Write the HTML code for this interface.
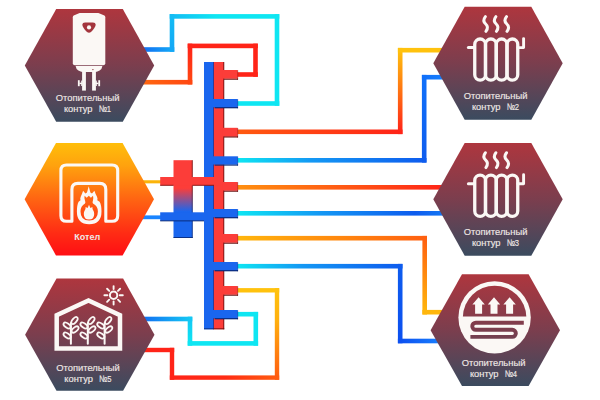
<!DOCTYPE html>
<html><head><meta charset="utf-8"><title>Схема отопления</title>
<style>
html,body{margin:0;padding:0;background:#fff;}
body{width:600px;height:400px;overflow:hidden;}
svg{display:block}
text{font-family:"Liberation Sans",Arial,sans-serif;font-size:9.2px;fill:#efe8e6;stroke:#efe8e6;stroke-width:0.15px;}
</style></head><body>
<svg width="600" height="400" viewBox="0 0 600 400">
<defs>
<linearGradient id="g1" gradientUnits="userSpaceOnUse" x1="140" y1="49.5" x2="172" y2="49.5"><stop offset="0" stop-color="#1268f2"/><stop offset="1" stop-color="#14a8f6"/></linearGradient>
<linearGradient id="g2" gradientUnits="userSpaceOnUse" x1="172" y1="49.5" x2="172" y2="16.4"><stop offset="0" stop-color="#14a8f6"/><stop offset="1" stop-color="#14bcf4"/></linearGradient>
<linearGradient id="g3" gradientUnits="userSpaceOnUse" x1="172" y1="16.4" x2="216" y2="16.4"><stop offset="0" stop-color="#14bcf4"/><stop offset="1" stop-color="#0ee6f2"/></linearGradient>
<linearGradient id="g4" gradientUnits="userSpaceOnUse" x1="216" y1="16.4" x2="277" y2="16.4"><stop offset="0" stop-color="#0ee6f2"/><stop offset="1" stop-color="#0ee6f2"/></linearGradient>
<linearGradient id="g5" gradientUnits="userSpaceOnUse" x1="277" y1="16.4" x2="277" y2="103.5"><stop offset="0" stop-color="#0ee6f2"/><stop offset="1" stop-color="#0ee6f2"/></linearGradient>
<linearGradient id="g6" gradientUnits="userSpaceOnUse" x1="277" y1="103.5" x2="237" y2="103.5"><stop offset="0" stop-color="#0ee6f2"/><stop offset="1" stop-color="#0ee6f2"/></linearGradient>
<linearGradient id="g7" gradientUnits="userSpaceOnUse" x1="138" y1="82.2" x2="190" y2="82.2"><stop offset="0" stop-color="#ff6a10"/><stop offset="1" stop-color="#ff4812"/></linearGradient>
<linearGradient id="g8" gradientUnits="userSpaceOnUse" x1="190" y1="82.2" x2="190" y2="45.9"><stop offset="0" stop-color="#ff4812"/><stop offset="1" stop-color="#ff2418"/></linearGradient>
<linearGradient id="g9" gradientUnits="userSpaceOnUse" x1="190" y1="45.9" x2="255.5" y2="45.9"><stop offset="0" stop-color="#ff2418"/><stop offset="1" stop-color="#ff2418"/></linearGradient>
<linearGradient id="g10" gradientUnits="userSpaceOnUse" x1="255.5" y1="45.9" x2="255.5" y2="74.5"><stop offset="0" stop-color="#ff2418"/><stop offset="1" stop-color="#ff2418"/></linearGradient>
<linearGradient id="g11" gradientUnits="userSpaceOnUse" x1="255.5" y1="74.5" x2="237" y2="74.5"><stop offset="0" stop-color="#ff2418"/><stop offset="1" stop-color="#ff2418"/></linearGradient>
<linearGradient id="g12" gradientUnits="userSpaceOnUse" x1="237" y1="131.8" x2="400.2" y2="131.8"><stop offset="0" stop-color="#ff5a10"/><stop offset="1" stop-color="#ff2418"/></linearGradient>
<linearGradient id="g13" gradientUnits="userSpaceOnUse" x1="400.2" y1="131.8" x2="400.2" y2="50.2"><stop offset="0" stop-color="#ff2418"/><stop offset="1" stop-color="#ffc20e"/></linearGradient>
<linearGradient id="g14" gradientUnits="userSpaceOnUse" x1="400.2" y1="50.2" x2="445" y2="50.2"><stop offset="0" stop-color="#ffc20e"/><stop offset="1" stop-color="#ffc20e"/></linearGradient>
<linearGradient id="g15" gradientUnits="userSpaceOnUse" x1="237" y1="160.3" x2="312" y2="160.3"><stop offset="0" stop-color="#0ee6f2"/><stop offset="1" stop-color="#1498f4"/></linearGradient>
<linearGradient id="g16" gradientUnits="userSpaceOnUse" x1="312" y1="160.3" x2="424.2" y2="160.3"><stop offset="0" stop-color="#1498f4"/><stop offset="1" stop-color="#0e5cee"/></linearGradient>
<linearGradient id="g17" gradientUnits="userSpaceOnUse" x1="424.2" y1="160.3" x2="424.2" y2="77.2"><stop offset="0" stop-color="#0e5cee"/><stop offset="1" stop-color="#1070fa"/></linearGradient>
<linearGradient id="g18" gradientUnits="userSpaceOnUse" x1="424.2" y1="77.2" x2="450" y2="77.2"><stop offset="0" stop-color="#1070fa"/><stop offset="1" stop-color="#1a84ff"/></linearGradient>
<linearGradient id="g19" gradientUnits="userSpaceOnUse" x1="237" y1="187.3" x2="445" y2="187.3"><stop offset="0" stop-color="#ff9010"/><stop offset="1" stop-color="#ff2418"/></linearGradient>
<linearGradient id="g20" gradientUnits="userSpaceOnUse" x1="237" y1="213.3" x2="320" y2="213.3"><stop offset="0" stop-color="#0ee6f2"/><stop offset="1" stop-color="#1498f4"/></linearGradient>
<linearGradient id="g21" gradientUnits="userSpaceOnUse" x1="320" y1="213.3" x2="415" y2="213.3"><stop offset="0" stop-color="#1498f4"/><stop offset="1" stop-color="#0e5cee"/></linearGradient>
<linearGradient id="g22" gradientUnits="userSpaceOnUse" x1="415" y1="213.3" x2="445" y2="213.3"><stop offset="0" stop-color="#0e5cee"/><stop offset="1" stop-color="#1478f4"/></linearGradient>
<linearGradient id="g23" gradientUnits="userSpaceOnUse" x1="237" y1="238.2" x2="424.7" y2="238.2"><stop offset="0" stop-color="#ffb60c"/><stop offset="1" stop-color="#ff6010"/></linearGradient>
<linearGradient id="g24" gradientUnits="userSpaceOnUse" x1="424.7" y1="238.2" x2="424.7" y2="312.2"><stop offset="0" stop-color="#ff6010"/><stop offset="1" stop-color="#ffb60c"/></linearGradient>
<linearGradient id="g25" gradientUnits="userSpaceOnUse" x1="424.7" y1="312.2" x2="445" y2="312.2"><stop offset="0" stop-color="#ffb60c"/><stop offset="1" stop-color="#ffb60c"/></linearGradient>
<linearGradient id="g26" gradientUnits="userSpaceOnUse" x1="237" y1="266.2" x2="302" y2="266.2"><stop offset="0" stop-color="#0ee6f2"/><stop offset="1" stop-color="#1498f4"/></linearGradient>
<linearGradient id="g27" gradientUnits="userSpaceOnUse" x1="302" y1="266.2" x2="400.2" y2="266.2"><stop offset="0" stop-color="#1498f4"/><stop offset="1" stop-color="#0e5cee"/></linearGradient>
<linearGradient id="g28" gradientUnits="userSpaceOnUse" x1="400.2" y1="266.2" x2="400.2" y2="341"><stop offset="0" stop-color="#0e5cee"/><stop offset="1" stop-color="#0c50f0"/></linearGradient>
<linearGradient id="g29" gradientUnits="userSpaceOnUse" x1="400.2" y1="341" x2="445" y2="341"><stop offset="0" stop-color="#0c50f0"/><stop offset="1" stop-color="#1a84ff"/></linearGradient>
<linearGradient id="g30" gradientUnits="userSpaceOnUse" x1="237" y1="314.2" x2="255.8" y2="314.2"><stop offset="0" stop-color="#0ee6f2"/><stop offset="1" stop-color="#0ee6f2"/></linearGradient>
<linearGradient id="g31" gradientUnits="userSpaceOnUse" x1="255.8" y1="314.2" x2="255.8" y2="343.4"><stop offset="0" stop-color="#0ee6f2"/><stop offset="1" stop-color="#0ee6f2"/></linearGradient>
<linearGradient id="g32" gradientUnits="userSpaceOnUse" x1="255.8" y1="343.4" x2="190" y2="343.4"><stop offset="0" stop-color="#0ee6f2"/><stop offset="1" stop-color="#0ee6f2"/></linearGradient>
<linearGradient id="g33" gradientUnits="userSpaceOnUse" x1="190" y1="343.4" x2="190" y2="319"><stop offset="0" stop-color="#0ee6f2"/><stop offset="1" stop-color="#14c8f4"/></linearGradient>
<linearGradient id="g34" gradientUnits="userSpaceOnUse" x1="190" y1="319" x2="140" y2="319"><stop offset="0" stop-color="#14c8f4"/><stop offset="1" stop-color="#1268f2"/></linearGradient>
<linearGradient id="g35" gradientUnits="userSpaceOnUse" x1="237" y1="290.3" x2="277" y2="290.3"><stop offset="0" stop-color="#ffc20e"/><stop offset="1" stop-color="#ffc20e"/></linearGradient>
<linearGradient id="g36" gradientUnits="userSpaceOnUse" x1="277" y1="290.3" x2="277" y2="320"><stop offset="0" stop-color="#ffc20e"/><stop offset="1" stop-color="#ffb00e"/></linearGradient>
<linearGradient id="g37" gradientUnits="userSpaceOnUse" x1="277" y1="320" x2="277" y2="377.6"><stop offset="0" stop-color="#ffb00e"/><stop offset="1" stop-color="#ff5c10"/></linearGradient>
<linearGradient id="g38" gradientUnits="userSpaceOnUse" x1="277" y1="377.6" x2="225" y2="377.6"><stop offset="0" stop-color="#ff5c10"/><stop offset="1" stop-color="#ff2c14"/></linearGradient>
<linearGradient id="g39" gradientUnits="userSpaceOnUse" x1="225" y1="377.6" x2="172" y2="377.6"><stop offset="0" stop-color="#ff2c14"/><stop offset="1" stop-color="#ff2418"/></linearGradient>
<linearGradient id="g40" gradientUnits="userSpaceOnUse" x1="172" y1="377.6" x2="172" y2="350"><stop offset="0" stop-color="#ff2418"/><stop offset="1" stop-color="#ff2418"/></linearGradient>
<linearGradient id="g41" gradientUnits="userSpaceOnUse" x1="172" y1="350" x2="140" y2="350"><stop offset="0" stop-color="#ff2418"/><stop offset="1" stop-color="#ff2418"/></linearGradient>
<linearGradient id="g42" gradientUnits="userSpaceOnUse" x1="140" y1="181.8" x2="162" y2="181.8"><stop offset="0" stop-color="#fbb40a"/><stop offset="1" stop-color="#fbb40a"/></linearGradient>
<linearGradient id="g43" gradientUnits="userSpaceOnUse" x1="140" y1="217.3" x2="162" y2="217.3"><stop offset="0" stop-color="#1a84ff"/><stop offset="1" stop-color="#1a84ff"/></linearGradient>
<linearGradient id="sepg" x1="0" y1="0" x2="0" y2="1"><stop offset="0" stop-color="#fc3d39"/><stop offset="0.36" stop-color="#fc3d39"/><stop offset="0.66" stop-color="#1a66ee"/><stop offset="1" stop-color="#1a66ee"/></linearGradient>
<linearGradient id="sepd" x1="0" y1="0" x2="0" y2="1"><stop offset="0" stop-color="#5e0808"/><stop offset="0.36" stop-color="#5e0808"/><stop offset="0.66" stop-color="#08246e"/><stop offset="1" stop-color="#08246e"/></linearGradient>
<linearGradient id="Gh1" gradientUnits="userSpaceOnUse" x1="0" y1="9.000000000000007" x2="0" y2="121.80000000000001"><stop offset="0" stop-color="#ae363e"/><stop offset="0.5" stop-color="#7b3e4e"/><stop offset="1" stop-color="#3b4b5f"/></linearGradient>
<linearGradient id="Gh2" gradientUnits="userSpaceOnUse" x1="0" y1="6.700000000000003" x2="0" y2="119.7"><stop offset="0" stop-color="#ae363e"/><stop offset="0.5" stop-color="#7b3e4e"/><stop offset="1" stop-color="#3b4b5f"/></linearGradient>
<linearGradient id="Gh3" gradientUnits="userSpaceOnUse" x1="0" y1="142.9" x2="0" y2="255.70000000000002"><stop offset="0" stop-color="#ae363e"/><stop offset="0.5" stop-color="#7b3e4e"/><stop offset="1" stop-color="#3b4b5f"/></linearGradient>
<linearGradient id="Gh4" gradientUnits="userSpaceOnUse" x1="0" y1="274.3" x2="0" y2="386.09999999999997"><stop offset="0" stop-color="#ae363e"/><stop offset="0.5" stop-color="#7b3e4e"/><stop offset="1" stop-color="#3b4b5f"/></linearGradient>
<linearGradient id="Gh5" gradientUnits="userSpaceOnUse" x1="0" y1="278.59999999999997" x2="0" y2="390.8"><stop offset="0" stop-color="#ae363e"/><stop offset="0.5" stop-color="#7b3e4e"/><stop offset="1" stop-color="#3b4b5f"/></linearGradient>
<linearGradient id="Ghb" gradientUnits="userSpaceOnUse" x1="0" y1="143.0" x2="0" y2="255.60000000000002"><stop offset="0" stop-color="#ffbe0a"/><stop offset="0.2" stop-color="#ffa20e"/><stop offset="0.5" stop-color="#ff6412"/><stop offset="0.8" stop-color="#ff2c14"/><stop offset="1" stop-color="#ff0e14"/></linearGradient>
</defs>
<rect width="600" height="400" fill="#fff"/>
<g id="pipes">
<rect x="140.00" y="47.20" width="34.30" height="4.6" fill="url(#g1)"/>
<rect x="169.70" y="14.10" width="4.6" height="37.70" fill="url(#g2)"/>
<rect x="169.70" y="14.10" width="46.30" height="4.6" fill="url(#g3)"/>
<rect x="216.00" y="14.10" width="63.30" height="4.6" fill="url(#g4)"/>
<rect x="274.70" y="14.10" width="4.6" height="91.70" fill="url(#g5)"/>
<rect x="237.00" y="101.20" width="42.30" height="4.6" fill="url(#g6)"/>
<rect x="138.00" y="79.90" width="54.30" height="4.6" fill="url(#g7)"/>
<rect x="187.70" y="43.60" width="4.6" height="40.90" fill="url(#g8)"/>
<rect x="187.70" y="43.60" width="70.10" height="4.6" fill="url(#g9)"/>
<rect x="253.20" y="43.60" width="4.6" height="33.20" fill="url(#g10)"/>
<rect x="237.00" y="72.20" width="20.80" height="4.6" fill="url(#g11)"/>
<rect x="237.00" y="129.50" width="165.50" height="4.6" fill="url(#g12)"/>
<rect x="397.90" y="47.90" width="4.6" height="86.20" fill="url(#g13)"/>
<rect x="397.90" y="47.90" width="47.10" height="4.6" fill="url(#g14)"/>
<rect x="237.00" y="158.00" width="75.00" height="4.6" fill="url(#g15)"/>
<rect x="312.00" y="158.00" width="114.50" height="4.6" fill="url(#g16)"/>
<rect x="421.90" y="74.90" width="4.6" height="87.70" fill="url(#g17)"/>
<rect x="421.90" y="74.90" width="28.10" height="4.6" fill="url(#g18)"/>
<rect x="237.00" y="185.00" width="208.00" height="4.6" fill="url(#g19)"/>
<rect x="237.00" y="211.00" width="83.00" height="4.6" fill="url(#g20)"/>
<rect x="320.00" y="211.00" width="95.00" height="4.6" fill="url(#g21)"/>
<rect x="415.00" y="211.00" width="30.00" height="4.6" fill="url(#g22)"/>
<rect x="237.00" y="235.90" width="190.00" height="4.6" fill="url(#g23)"/>
<rect x="422.40" y="235.90" width="4.6" height="78.60" fill="url(#g24)"/>
<rect x="422.40" y="309.90" width="22.60" height="4.6" fill="url(#g25)"/>
<rect x="237.00" y="263.90" width="65.00" height="4.6" fill="url(#g26)"/>
<rect x="302.00" y="263.90" width="100.50" height="4.6" fill="url(#g27)"/>
<rect x="397.90" y="263.90" width="4.6" height="79.40" fill="url(#g28)"/>
<rect x="397.90" y="338.70" width="47.10" height="4.6" fill="url(#g29)"/>
<rect x="237.00" y="311.90" width="21.10" height="4.6" fill="url(#g30)"/>
<rect x="253.50" y="311.90" width="4.6" height="33.80" fill="url(#g31)"/>
<rect x="187.70" y="341.10" width="70.40" height="4.6" fill="url(#g32)"/>
<rect x="187.70" y="316.70" width="4.6" height="29.00" fill="url(#g33)"/>
<rect x="140.00" y="316.70" width="52.30" height="4.6" fill="url(#g34)"/>
<rect x="237.00" y="288.10" width="42.20" height="4.4" fill="url(#g35)"/>
<rect x="274.80" y="288.10" width="4.4" height="31.90" fill="url(#g36)"/>
<rect x="274.80" y="320.00" width="4.4" height="59.80" fill="url(#g37)"/>
<rect x="225.00" y="375.40" width="54.20" height="4.4" fill="url(#g38)"/>
<rect x="169.80" y="375.40" width="55.20" height="4.4" fill="url(#g39)"/>
<rect x="169.80" y="347.80" width="4.4" height="32.00" fill="url(#g40)"/>
<rect x="140.00" y="347.80" width="34.20" height="4.4" fill="url(#g41)"/>
<rect x="140.00" y="180.25" width="22.00" height="3.1" fill="url(#g42)"/>
<rect x="140.00" y="215.40" width="22.00" height="3.8" fill="url(#g43)"/>
</g>
<g id="manifold">
<rect x="173.5" y="160.2" width="19" height="77.8" fill="url(#sepg)"/>
<rect x="191.8" y="160.2" width="0.9" height="77.8" fill="url(#sepd)" opacity="0.8"/>
<rect x="173.5" y="237" width="19.2" height="1" fill="#08246e" opacity="0.8"/>
<rect x="160.2" y="212.3" width="50" height="8.6" fill="#1a66ee"/>
<rect x="160.2" y="220.3" width="44" height="1.1" fill="#08246e" opacity="0.8"/>
<rect x="204" y="62" width="10" height="267.3" fill="#1a66ee"/>
<rect x="213.6" y="62" width="10.4" height="267.3" fill="#fc3d39"/>
<rect x="223.3" y="62" width="1" height="267.3" fill="#5e0808" opacity="0.8"/>
<rect x="213.1" y="62" width="0.9" height="267.3" fill="#0b2c8e" opacity="0.7"/>
<rect x="204" y="328.3" width="9.6" height="1" fill="#08246e" opacity="0.8"/>
<rect x="213.6" y="328.3" width="10.7" height="1" fill="#5e0808" opacity="0.8"/>
<rect x="224.0" y="78.39999999999999" width="13.99999999999999" height="1.3" fill="#5e0808"/><rect x="237.2" y="70.3" width="0.9" height="9.299999999999999" fill="#5e0808" opacity="0.85"/><rect x="222.4" y="70" width="15.199999999999989" height="8.6" fill="#fc3d39"/>
<rect x="224.0" y="136.20000000000002" width="13.99999999999999" height="1.3" fill="#5e0808"/><rect x="237.2" y="128.1" width="0.9" height="9.299999999999999" fill="#5e0808" opacity="0.85"/><rect x="222.4" y="127.8" width="15.199999999999989" height="8.6" fill="#fc3d39"/>
<rect x="224.0" y="242.4" width="13.99999999999999" height="1.3" fill="#5e0808"/><rect x="237.2" y="234.3" width="0.9" height="9.299999999999999" fill="#5e0808" opacity="0.85"/><rect x="222.4" y="234" width="15.199999999999989" height="8.6" fill="#fc3d39"/>
<rect x="224.0" y="294.40000000000003" width="13.99999999999999" height="1.3" fill="#5e0808"/><rect x="237.2" y="286.3" width="0.9" height="9.299999999999999" fill="#5e0808" opacity="0.85"/><rect x="222.4" y="286" width="15.199999999999989" height="8.6" fill="#fc3d39"/>
<rect x="214.6" y="107.0" width="23.399999999999995" height="1.3" fill="#08246e"/><rect x="237.2" y="99.3" width="0.9" height="8.899999999999999" fill="#08246e" opacity="0.85"/><rect x="213" y="99" width="24.599999999999994" height="8.2" fill="#1a66ee"/>
<rect x="214.6" y="164.3" width="23.399999999999995" height="1.3" fill="#08246e"/><rect x="237.2" y="156.60000000000002" width="0.9" height="8.899999999999999" fill="#08246e" opacity="0.85"/><rect x="213" y="156.3" width="24.599999999999994" height="8.2" fill="#1a66ee"/>
<rect x="214.6" y="217.0" width="23.399999999999995" height="1.3" fill="#08246e"/><rect x="237.2" y="209.3" width="0.9" height="8.899999999999999" fill="#08246e" opacity="0.85"/><rect x="213" y="209" width="24.599999999999994" height="8.2" fill="#1a66ee"/>
<rect x="214.6" y="270.0" width="23.399999999999995" height="1.3" fill="#08246e"/><rect x="237.2" y="262.3" width="0.9" height="8.899999999999999" fill="#08246e" opacity="0.85"/><rect x="213" y="262" width="24.599999999999994" height="8.2" fill="#1a66ee"/>
<rect x="214.6" y="318.0" width="23.399999999999995" height="1.3" fill="#08246e"/><rect x="237.2" y="310.3" width="0.9" height="8.899999999999999" fill="#08246e" opacity="0.85"/><rect x="213" y="310" width="24.599999999999994" height="8.2" fill="#1a66ee"/>
<rect x="160.2" y="177" width="60" height="8.6" fill="#fc3d39"/><rect x="160.2" y="184.8" width="13.3" height="1" fill="#5e0808" opacity="0.7"/><rect x="192.5" y="184.8" width="21.5" height="1" fill="#5e0808" opacity="0.7"/><rect x="224.0" y="190.4" width="13.99999999999999" height="1.3" fill="#5e0808"/><rect x="237.2" y="182.3" width="0.9" height="9.299999999999999" fill="#5e0808" opacity="0.85"/><rect x="222.4" y="182" width="15.199999999999989" height="8.6" fill="#fc3d39"/>
</g>
<g id="hexes">
<polygon points="24.8,65.4 56.2,9.0 122.8,9.0 154.2,65.4 122.8,121.8 56.2,121.8" fill="url(#Gh1)"/>
<polygon points="433.3,63.2 464.7,6.7 531.3,6.7 562.7,63.2 531.3,119.7 464.7,119.7" fill="url(#Gh2)"/>
<polygon points="433.3,199.3 464.7,142.9 531.3,142.9 562.7,199.3 531.3,255.7 464.7,255.7" fill="url(#Gh3)"/>
<polygon points="430.6,330.2 462.0,274.3 528.6,274.3 560.0,330.2 528.6,386.1 462.0,386.1" fill="url(#Gh4)"/>
<polygon points="25.1,334.7 56.5,278.6 123.1,278.6 154.5,334.7 123.1,390.8 56.5,390.8" fill="url(#Gh5)"/>
<polygon points="24.6,199.3 56.0,143.0 122.6,143.0 154.0,199.3 122.6,255.6 56.0,255.6" fill="url(#Ghb)"/>
</g>
<g id="icons">
<g id="heater" fill="#fbf8f5">
<path d="M79.6 13.1 H98.4 L104.4 15.6 Q105.3 16.1 105.3 17.2 V63.2 Q105.3 65.3 103.2 65.3 H74.9 Q72.8 65.3 72.8 63.2 V17.2 Q72.8 16.1 73.7 15.6 Z"/>
<path d="M75.6 66 H102.4 Q101.6 72 93 72 H85 Q76.4 72 75.6 66 Z"/>
<rect x="82.1" y="71" width="3.8" height="19.6"/>
<rect x="92.1" y="71" width="3.8" height="19.6"/>
<rect x="77.9" y="80.2" width="1.8" height="6"/><rect x="79.5" y="82.7" width="2.8" height="1.4"/><rect x="81.2" y="80.6" width="1.2" height="5.4"/>
<rect x="98.3" y="80.2" width="1.8" height="6"/><rect x="95.7" y="82.7" width="2.8" height="1.4"/><rect x="95.6" y="80.6" width="1.2" height="5.4"/>
</g>
<path d="M82.3 24.8 Q82.4 22.6 85 22.6 H93 Q95.6 22.6 95.7 24.8 Q95.4 27.8 91 32 Q89 33.6 87 32 Q82.6 27.8 82.3 24.8 Z" fill="#a4353d"/>
<circle cx="89" cy="27.4" r="2.1" fill="#fbf8f5"/>
<circle cx="92.9" cy="69.6" r="0.7" fill="#8a3a45"/>
<g id="rad2" transform="translate(0,0)" fill="none" stroke="#fbf8f5" stroke-linecap="round" stroke-linejoin="round"><path d="M485.4 16.6 C483.09999999999997 19.5 483.5 22 485.7 24 C487.9 26 488.09999999999997 28.5 485.9 31.4" stroke-width="3"/><path d="M495.9 16.6 C493.59999999999997 19.5 494.0 22 496.2 24 C498.4 26 498.59999999999997 28.5 496.4 31.4" stroke-width="3"/><path d="M506.5 16.6 C504.2 19.5 504.6 22 506.8 24 C509.0 26 509.2 28.5 507.0 31.4" stroke-width="3"/><rect x="474.75" y="39" width="10.75" height="41.2" rx="5.375" stroke-width="3.3"/><rect x="485.50" y="39" width="10.75" height="41.2" rx="5.375" stroke-width="3.3"/><rect x="496.25" y="39" width="10.75" height="41.2" rx="5.375" stroke-width="3.3"/><rect x="507.00" y="39" width="10.75" height="41.2" rx="5.375" stroke-width="3.3"/><path d="M468.4 47.6 H474" stroke-width="3"/><path d="M518 47.6 H523.6 V38.6" stroke-width="2.9"/></g>
<g id="rad3" transform="translate(0,136.2)" fill="none" stroke="#fbf8f5" stroke-linecap="round" stroke-linejoin="round"><path d="M485.4 16.6 C483.09999999999997 19.5 483.5 22 485.7 24 C487.9 26 488.09999999999997 28.5 485.9 31.4" stroke-width="3"/><path d="M495.9 16.6 C493.59999999999997 19.5 494.0 22 496.2 24 C498.4 26 498.59999999999997 28.5 496.4 31.4" stroke-width="3"/><path d="M506.5 16.6 C504.2 19.5 504.6 22 506.8 24 C509.0 26 509.2 28.5 507.0 31.4" stroke-width="3"/><rect x="474.75" y="39" width="10.75" height="41.2" rx="5.375" stroke-width="3.3"/><rect x="485.50" y="39" width="10.75" height="41.2" rx="5.375" stroke-width="3.3"/><rect x="496.25" y="39" width="10.75" height="41.2" rx="5.375" stroke-width="3.3"/><rect x="507.00" y="39" width="10.75" height="41.2" rx="5.375" stroke-width="3.3"/><path d="M468.4 47.6 H474" stroke-width="3"/><path d="M518 47.6 H523.6 V38.6" stroke-width="2.9"/></g>
<g id="floor">
<circle cx="494.6" cy="317.4" r="36.2" fill="#fbf8f5"/>
<path d="M462.91 316.6 A31.7 31.7 0 0 1 526.2900000000001 316.6 Z" fill="url(#Gh4)"/>
<g fill="#fbf8f5"><path d="M478.6 297.3 L484.8 304.6 H482.1 V313.8 H475.1 V304.6 H472.40000000000003 Z"/><path d="M494 297.3 L500.2 304.6 H497.5 V313.8 H490.5 V304.6 H487.8 Z"/><path d="M509.6 297.3 L515.8000000000001 304.6 H513.1 V313.8 H506.1 V304.6 H503.40000000000003 Z"/></g>
<path d="M523.8 322.7 H475.8 A3.55 3.55 0 0 0 475.8 329.8 H512.3 A3.55 3.55 0 0 1 512.3 336.9 H470.4" fill="none" stroke="url(#Gh4)" stroke-width="3.9"/>
</g>
<g id="green" fill="none" stroke="#fbf8f5" stroke-linejoin="miter" stroke-linecap="round"><path d="M56.7 348.5 V315.2 L88.5 300.4 L120 315.2 V348.5 Z" stroke-width="4.5"/><path d="M70.9 343.8 V323" stroke-width="2"/><ellipse cx="74.5" cy="320.5" rx="4.1" ry="2.1" transform="rotate(-50 74.5 320.5)" stroke-width="1.8"/><ellipse cx="67.10000000000001" cy="325.5" rx="4.1" ry="2.1" transform="rotate(35 67.10000000000001 325.5)" stroke-width="1.8"/><ellipse cx="75.10000000000001" cy="329.5" rx="4.1" ry="2.1" transform="rotate(-40 75.10000000000001 329.5)" stroke-width="1.8"/><ellipse cx="67.10000000000001" cy="335.5" rx="4.1" ry="2.1" transform="rotate(35 67.10000000000001 335.5)" stroke-width="1.8"/><path d="M87.8 343.8 V323" stroke-width="2"/><ellipse cx="91.39999999999999" cy="320.5" rx="4.1" ry="2.1" transform="rotate(-50 91.39999999999999 320.5)" stroke-width="1.8"/><ellipse cx="84.0" cy="325.5" rx="4.1" ry="2.1" transform="rotate(35 84.0 325.5)" stroke-width="1.8"/><ellipse cx="92.0" cy="329.5" rx="4.1" ry="2.1" transform="rotate(-40 92.0 329.5)" stroke-width="1.8"/><ellipse cx="84.0" cy="335.5" rx="4.1" ry="2.1" transform="rotate(35 84.0 335.5)" stroke-width="1.8"/><path d="M104.6 343.8 V323" stroke-width="2"/><ellipse cx="108.19999999999999" cy="320.5" rx="4.1" ry="2.1" transform="rotate(-50 108.19999999999999 320.5)" stroke-width="1.8"/><ellipse cx="100.8" cy="325.5" rx="4.1" ry="2.1" transform="rotate(35 100.8 325.5)" stroke-width="1.8"/><ellipse cx="108.8" cy="329.5" rx="4.1" ry="2.1" transform="rotate(-40 108.8 329.5)" stroke-width="1.8"/><ellipse cx="100.8" cy="335.5" rx="4.1" ry="2.1" transform="rotate(35 100.8 335.5)" stroke-width="1.8"/><circle cx="113.6" cy="295.3" r="3.7" stroke-width="2"/><path d="M119.80 295.30 L122.80 295.30" stroke-width="1.9"/><path d="M117.98 299.68 L120.11 301.81" stroke-width="1.9"/><path d="M113.60 301.50 L113.60 304.50" stroke-width="1.9"/><path d="M109.22 299.68 L107.09 301.81" stroke-width="1.9"/><path d="M107.40 295.30 L104.40 295.30" stroke-width="1.9"/><path d="M109.22 290.92 L107.09 288.79" stroke-width="1.9"/><path d="M113.60 289.10 L113.60 286.10" stroke-width="1.9"/><path d="M117.98 290.92 L120.11 288.79" stroke-width="1.9"/></g>
<g id="kotel" fill="none" stroke="#fbf8f5" stroke-width="3.1" stroke-linejoin="round"><path d="M71.9 221.3 H66.5 Q60.9 221.3 60.9 215.7 V170.6 Q60.9 165 66.5 165 H112.1 Q117.7 165 117.7 170.6 V215.7 Q117.7 221.3 112.1 221.3 H105.8 V189.4 Q105.8 183.4 99.8 183.4 H77.9 Q71.9 183.4 71.9 189.4 Z"/></g><path d="M88.7 186.2 L90.4 192.4 L92 193.4 L94.4 190.8 Q95.3 193.6 96.9 196.6 Q97.9 198.7 97.3 200.3 L99.6 201.7 Q101.5 205 101.5 211.4 Q101.5 224.2 89.2 224.2 Q76.9 224.2 76.9 211.4 Q76.9 205 78.6 201.7 L80.5 200.3 Q79.9 198.7 80.8 196.6 Q82.2 193.6 83.1 190.8 L85.4 193.4 L87 192.4 Z" fill="#fbf8f5"/><path d="M84.6 195.7 L86.7 197.8 L88.8 195.8 L90.9 197.8 L93 195.7 Q93.8 198.5 92.9 200.8 Q92.1 202.6 93 203.6 Q97.9 206 97.9 211.6 Q97.9 220.6 89.2 220.6 Q80.5 220.6 80.5 211.6 Q80.5 206 85 203.6 Q85.8 202.6 85 200.8 Q83.9 198.5 84.6 195.7 Z" fill="url(#Ghb)"/><path d="M89 204.8 L90.4 208 L92.4 207 Q92.2 209.2 93.3 210.6 Q94.2 212 94.2 214 Q94.2 219.6 89 219.6 Q83.8 219.6 83.8 214 Q83.8 212 84.7 210.6 Q85.8 209.2 85.6 207 L87.6 208 Z" fill="#fbf8f5"/>
</g>
<g id="labels">
<text x="87.6" y="101.3" text-anchor="middle" style="font-size:9.4px">Отопительный</text><text x="92.5" y="112.0" text-anchor="end" style="font-size:9.3px">контур</text><text x="98.69999999999999" y="112.0" textLength="12.4" lengthAdjust="spacingAndGlyphs" style="font-size:9.3px">№1</text>
<text x="495.6" y="99" text-anchor="middle" style="font-size:9.4px">Отопительный</text><text x="500.5" y="109.7" text-anchor="end" style="font-size:9.3px">контур</text><text x="506.70000000000005" y="109.7" textLength="12.4" lengthAdjust="spacingAndGlyphs" style="font-size:9.3px">№2</text>
<text x="495.6" y="235.2" text-anchor="middle" style="font-size:9.4px">Отопительный</text><text x="500.5" y="245.89999999999998" text-anchor="end" style="font-size:9.3px">контур</text><text x="506.70000000000005" y="245.89999999999998" textLength="12.4" lengthAdjust="spacingAndGlyphs" style="font-size:9.3px">№3</text>
<text x="493.6" y="365.8" text-anchor="middle" style="font-size:9.4px">Отопительный</text><text x="498.5" y="376.5" text-anchor="end" style="font-size:9.3px">контур</text><text x="504.70000000000005" y="376.5" textLength="12.4" lengthAdjust="spacingAndGlyphs" style="font-size:9.3px">№4</text>
<text x="88.0" y="371.2" text-anchor="middle" style="font-size:9.4px">Отопительный</text><text x="92.9" y="381.9" text-anchor="end" style="font-size:9.3px">контур</text><text x="99.1" y="381.9" textLength="12.4" lengthAdjust="spacingAndGlyphs" style="font-size:9.3px">№5</text>
<text x="87.2" y="239.6" text-anchor="middle" style="font-weight:bold;font-size:9px;stroke:none">Котел</text>
</g>
</svg>
</body></html>
